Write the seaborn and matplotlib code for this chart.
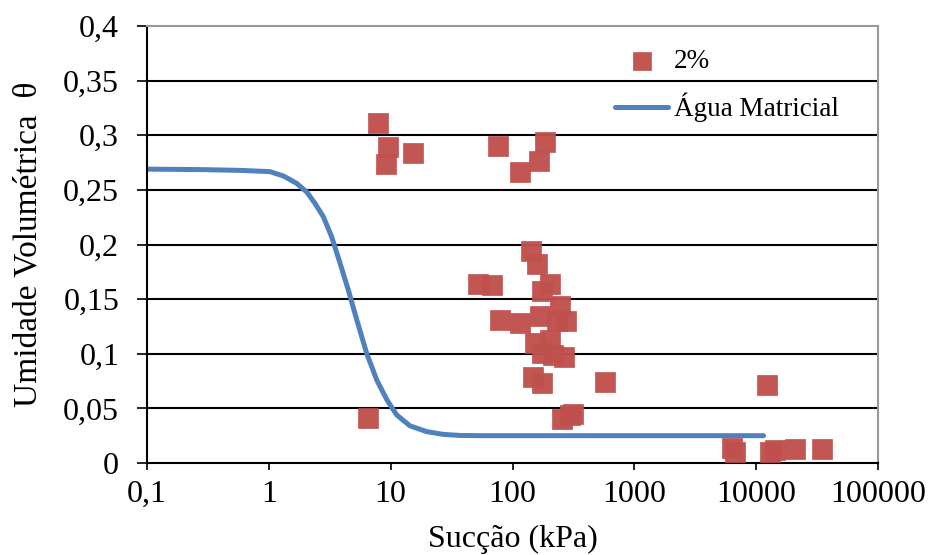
import numpy as np
import pandas as pd
import matplotlib.pyplot as plt
import seaborn as sb

# measured points (2%)
succao = [7.9, 9.5, 9.2, 15.3, 76, 185, 165, 115,
          142, 159, 204, 175, 52, 68, 246, 79, 115, 169, 232, 275,
          204, 153, 175, 215, 265, 148, 175, 575,
          6.5, 255, 315, 297,
          12300, 6350, 6730, 14300, 13000, 20900, 34800]
umidade = [0.311, 0.289, 0.274, 0.284, 0.290, 0.294, 0.276, 0.266,
           0.194, 0.182, 0.164, 0.157, 0.164, 0.163, 0.144, 0.131, 0.128, 0.135, 0.130, 0.130,
           0.113, 0.110, 0.101, 0.099, 0.097, 0.079, 0.073, 0.074,
           0.041, 0.040, 0.045, 0.044,
           0.071, 0.0137, 0.010, 0.012, 0.010, 0.013, 0.013]

# fitted curve (Água Matricial)
curva_x = [0.1, 0.3, 0.6, 1.02, 1.32, 1.69, 2.05, 2.39, 2.80, 3.28, 3.84, 4.50, 5.27,
           6.37, 7.69, 9.29, 11.2, 14.4, 19.8, 27, 37.2, 60, 120, 1000, 11500]
curva_y = [0.269, 0.2685, 0.2678, 0.2667, 0.2627, 0.256, 0.248, 0.2377, 0.2255, 0.207,
           0.183, 0.158, 0.131, 0.100, 0.076, 0.058, 0.044, 0.034, 0.0287, 0.0262,
           0.0252, 0.025, 0.025, 0.025, 0.025]

xticks = [0.1, 1, 10, 100, 1000, 10000, 100000]
xlabels = ['0,1', '1', '10', '100', '1000', '10000', '100000']
yticks = [0, 0.05, 0.1, 0.15, 0.2, 0.25, 0.3, 0.35, 0.4]
ylabels = ['0', '0,05', '0,1', '0,15', '0,2', '0,25', '0,3', '0,35', '0,4']

sb.set_style('white')
plt.rcParams['font.family'] = ['Liberation Serif', 'DejaVu Serif']
plt.rcParams['text.color'] = 'black'
plt.rcParams['axes.labelcolor'] = 'black'

fig = plt.figure(figsize=(9.3, 5.55), dpi=100)
ax = fig.add_axes([147/930, 1-463/555, (878-147)/930, (463-26)/555])

pts = pd.DataFrame({'x': succao, 'y': umidade})
cur = pd.DataFrame({'x': curva_x, 'y': curva_y})

sb.lineplot(data=cur, x='x', y='y', ax=ax, color='#4F81BD', linewidth=3.6,
            label='Água Matricial', zorder=2, solid_capstyle='round')
sb.scatterplot(data=pts, x='x', y='y', ax=ax, marker='s', s=190, color='#C0504D',
               edgecolor='#C0504D', linewidth=0.5, alpha=0.97, label='2%', zorder=3)

ax.set_xscale('log')
ax.set_xlim(0.1, 100000)
ax.set_ylim(0, 0.4)
ax.set_xticks(xticks)
ax.set_xticklabels(xlabels)
ax.minorticks_off()
ax.set_yticks(yticks)
ax.set_yticklabels(ylabels)
ax.tick_params(axis='both', labelsize=23, direction='out', width=1.2,
               colors='black', bottom=True, left=True)
ax.tick_params(axis='x', length=5, pad=7)
ax.tick_params(axis='y', length=7, pad=13)

for y in yticks[1:-1]:
    ax.axhline(y, color='black', linewidth=1.5, zorder=1)

for s in ['left', 'bottom']:
    ax.spines[s].set_color('black')
    ax.spines[s].set_linewidth(1.5)
for s in ['top', 'right']:
    ax.spines[s].set_color('#999999')
    ax.spines[s].set_linewidth(1.5)

ax.set_xlabel('Sucção (kPa)', fontsize=23, labelpad=12)
ax.set_ylabel('Umidade Volumétrica  θ', fontsize=24, labelpad=14)

h, l = ax.get_legend_handles_labels()
leg = ax.legend([h[1], h[0]], [l[1], l[0]], loc='upper left',
                bbox_to_anchor=(591/930, 1-25/555), bbox_transform=fig.transFigure,
                frameon=False, fontsize=19.5, labelspacing=0.68, handlelength=1.95,
                handletextpad=0.2, markerscale=0.9)

fig.savefig('out.png', dpi=100)
